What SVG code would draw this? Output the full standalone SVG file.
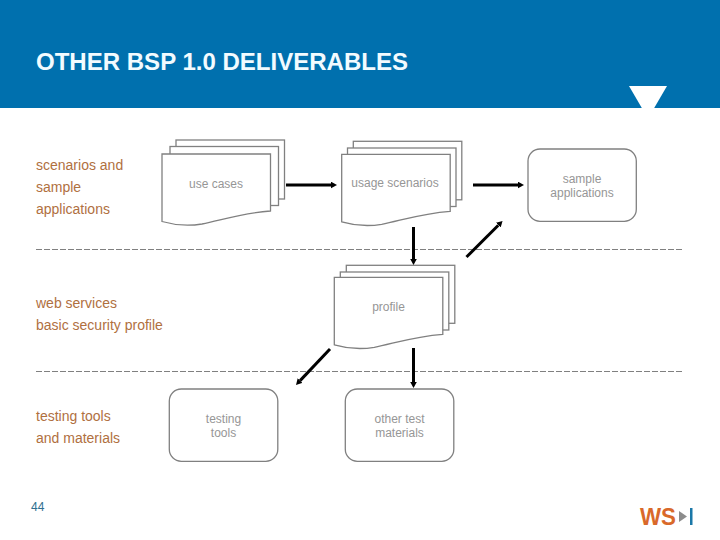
<svg xmlns="http://www.w3.org/2000/svg" width="720" height="540" viewBox="0 0 720 540">
<style>
text{font-family:"Liberation Sans",Arial,sans-serif}
.l{font-size:14px;fill:#b0703f}
.n{font-size:12px;fill:#969696;text-anchor:middle}
.s{fill:#fff;stroke:#808080;stroke-width:1.3}
.d{fill:none;stroke:#808080;stroke-width:1;stroke-dasharray:6 2}
.c{stroke:#000;stroke-width:3;fill:none;marker-end:url(#a)}
</style>
<defs>
<marker id="a" markerUnits="userSpaceOnUse" markerWidth="8" markerHeight="8" refX="0" refY="3.500" orient="auto"><path d="M0 0.200L6 3.500L0 6.800Z" fill="#000"/></marker>
<path id="doc" d="M0 0H108.500V57C80 59 60 66 40 70C28 72 12 71 0 67.500Z"/>
</defs>
<rect width="720" height="540" fill="#fff"/>
<rect id="banner" width="720" height="108" fill="#0070ae"/>
<path d="M629 86H667L653 110H643Z" fill="#fff"/>
<text x="36" y="70" font-size="23" font-weight="bold" fill="#f2fbff" textLength="372" lengthAdjust="spacingAndGlyphs">OTHER BSP 1.0 DELIVERABLES</text>
<g id="labels">
<text class="l" x="36" y="170">scenarios and</text>
<text class="l" x="36" y="192">sample</text>
<text class="l" x="36" y="214">applications</text>
<text class="l" x="36" y="308">web services</text>
<text class="l" x="36" y="330">basic security profile</text>
<text class="l" x="36" y="421">testing tools</text>
<text class="l" x="36" y="443">and materials</text>
<text x="31" y="511" font-size="12" fill="#2f6f8f">44</text>
</g>
<path class="d" d="M36 249.500H683M36 371.500H683"/>
<g id="use-cases">
<rect class="s" x="176" y="140" width="108.500" height="59"/>
<rect class="s" x="170" y="146.500" width="108.500" height="59"/>
<use href="#doc" class="s" x="162" y="154"/>
<text class="n" x="216" y="188">use cases</text>
</g>
<g id="usage-scenarios">
<rect class="s" x="353.300" y="141.300" width="108.500" height="58.500"/>
<rect class="s" x="347.500" y="148" width="108.500" height="58.500"/>
<use href="#doc" class="s" x="341.700" y="154.300"/>
<text class="n" x="395" y="187">usage scenarios</text>
</g>
<g id="profile">
<rect class="s" x="346.300" y="265.300" width="108.500" height="58"/>
<rect class="s" x="340.300" y="272" width="108.500" height="58"/>
<use href="#doc" class="s" x="334.300" y="277.300"/>
<text class="n" x="388.500" y="311">profile</text>
</g>
<g id="sample-applications">
<rect class="s" x="528" y="149" width="108.300" height="72.300" rx="12"/>
<text class="n" x="582" y="183">sample</text>
<text class="n" x="582" y="197">applications</text>
</g>
<g id="testing-tools">
<rect class="s" x="169.300" y="389" width="108.500" height="72.300" rx="12"/>
<text class="n" x="223.500" y="423">testing</text>
<text class="n" x="223.500" y="437">tools</text>
</g>
<g id="other-test-materials">
<rect class="s" x="345.300" y="389" width="108.500" height="72.300" rx="12"/>
<text class="n" x="399.500" y="423">other test</text>
<text class="n" x="399.500" y="437">materials</text>
</g>
<g id="connectors">
<path class="c" d="M286 185H331"/>
<path class="c" d="M473 185H518"/>
<path class="c" d="M413.500 227V259"/>
<path class="c" d="M466.500 257L498.300 225.200"/>
<path class="c" d="M330 349L300.100 380.600"/>
<path class="c" d="M413.500 348V382"/>
</g>
<g id="logo">
<text x="640" y="525" font-size="23.500" font-weight="bold" fill="#d9692a" textLength="36" lengthAdjust="spacingAndGlyphs">WS</text>
<path d="M679 511L687 516.500L679 522Z" fill="#8c8c8c"/>
<rect x="690" y="508" width="2.500" height="17" fill="#1b78a8"/>
</g>
</svg>
